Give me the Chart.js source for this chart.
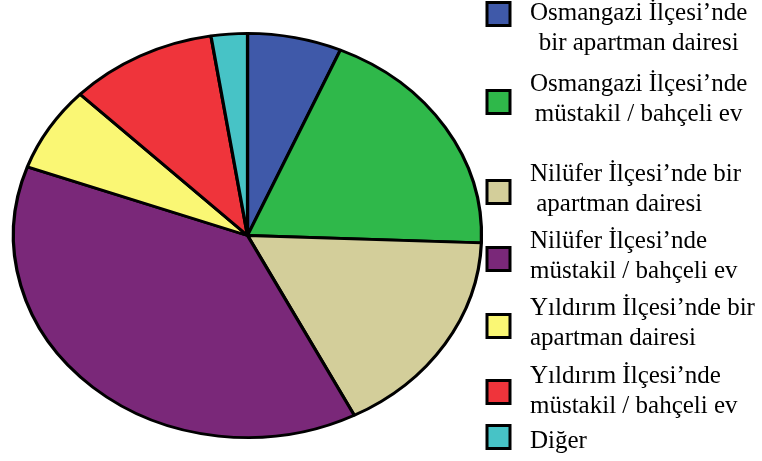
<!DOCTYPE html>
<html>
<head>
<meta charset="utf-8">
<style>
  html, body { margin: 0; padding: 0; background: #fff; }
  #wrap { width: 762px; height: 461px; }
</style>
<script src="https://cdn.jsdelivr.net/npm/chart.js@4"></script>
</head>
<body>
<div id="wrap"><canvas id="pieChart" width="762" height="461"></canvas></div>
<script>
// categories (legend text, one entry per line) and shares in percent
const categories = [
    ['Osmangazi İlçesi’nde', 'bir apartman dairesi'],
    ['Osmangazi İlçesi’nde', 'müstakil / bahçeli ev'],
    ['Nilüfer İlçesi’nde bir', ' apartman dairesi'],
    ['Nilüfer İlçesi’nde', 'müstakil / bahçeli ev'],
    ['Yıldırım İlçesi’nde bir', 'apartman dairesi'],
    ['Yıldırım İlçesi’nde', 'müstakil / bahçeli ev'],
    ['Diğer']
];
const shares = [6.5, 19.1, 16.9, 38.1, 6.8, 10.2, 2.5];

const colors = ['#3F59A9', '#2FB84A', '#D3CE9A', '#7A2879', '#FAF774', '#EF343B', '#47C3C6'];

// legend layout: box centres, first baselines, centred lines or not
const boxY = [14, 102, 192, 259, 326, 392, 437];
const textY = [20, 91, 181, 248, 315, 383, 448];
const centred = [true, true, false, false, false, false, false];

// stretch the pie horizontally so it comes out as an ellipse
const stretch = {
    id: 'stretch',
    beforeDatasetsDraw(chart) {
        const arc = chart.getDatasetMeta(0).data[0];
        const ctx = chart.ctx;
        ctx.save();
        ctx.translate(arc.x, arc.y);
        ctx.scale(1.158, 1);
        ctx.translate(-arc.x, -arc.y);
    },
    afterDatasetsDraw(chart) {
        chart.ctx.restore();
    }
};

const sideLegend = {
    id: 'sideLegend',
    afterDraw(chart) {
        const ctx = chart.ctx;
        ctx.save();
        ctx.font = '25px "Liberation Serif", "Times New Roman", serif';
        ctx.textBaseline = 'alphabetic';
        categories.forEach((lines, i) => {
            ctx.fillStyle = colors[i];
            ctx.fillRect(487, boxY[i] - 11.5, 23, 23);
            ctx.lineWidth = 3;
            ctx.strokeStyle = '#000';
            ctx.strokeRect(487, boxY[i] - 11.5, 23, 23);
            ctx.fillStyle = '#000';
            const widths = lines.map(l => ctx.measureText(l).width);
            const maxW = Math.max(...widths);
            lines.forEach((line, j) => {
                const x = centred[i] ? 530 + (maxW - widths[j]) / 2 : 530;
                ctx.fillText(line, x, textY[i] + j * 29.5);
            });
        });
        ctx.restore();
    }
};

const ctx = document.getElementById('pieChart').getContext('2d');
const pieChart = new Chart(ctx, {
    type: 'pie',
    data: {
        labels: categories.map(c => c.join(' ')),
        datasets: [{
            data: shares,
            backgroundColor: colors,
            borderColor: '#000',
            borderWidth: 2.8
        }]
    },
    options: {
        responsive: false,
        animation: false,
        layout: {
            padding: { left: 44, top: 32, right: 311, bottom: 22 }
        },
        plugins: {
            legend: { display: false },
            tooltip: { enabled: false }
        }
    },
    plugins: [stretch, sideLegend]
});
</script>
</body>
</html>
